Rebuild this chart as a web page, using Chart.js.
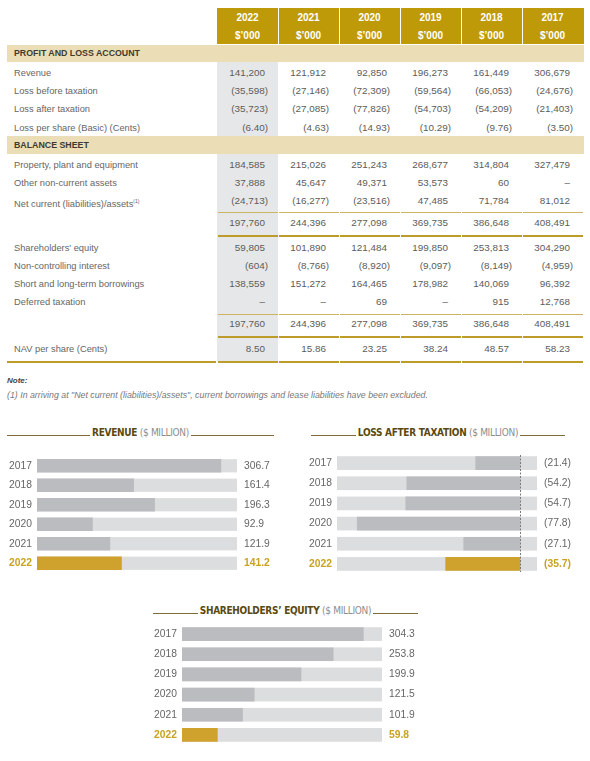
<!DOCTYPE html>
<html><head><meta charset="utf-8">
<script src="https://cdn.jsdelivr.net/npm/chart.js@4.4.1/dist/chart.umd.min.js"></script>
<style>
html,body{margin:0;padding:0;background:#fff;}
body{width:590px;height:761px;position:relative;overflow:hidden;font-family:"Liberation Sans",Arial,sans-serif;color:#666;}
.a{position:absolute;white-space:nowrap;}
.hdr{color:#fff;font-weight:bold;font-size:10px;text-align:center;width:61px;height:14px;line-height:14px;}
.lab{font-size:9.3px;color:#666;height:18px;line-height:18px;left:14px;}
.num{font-size:9.9px;color:#5c5c5c;height:18px;line-height:18px;text-align:right;width:61px;box-sizing:border-box;}
.sec{background:#EBDDB5;left:7px;width:577px;}
.sec span{position:absolute;left:7px;font-weight:bold;font-size:8.8px;color:#3e3a30;}
.ttl{position:absolute;display:flex;align-items:flex-end;height:11px;}
.ttl .ln{flex:1;height:1.5px;background:#7d6c3a;margin-bottom:2px;}
.ttl span{padding:0 2px;line-height:11px;font-family:"DejaVu Sans Condensed","DejaVu Sans",sans-serif;font-stretch:condensed;font-size:10px;letter-spacing:-0.3px;color:#8c8c8c;}
.ttl b{color:#5a4a10;}
.cw{position:absolute;}
</style></head><body>
<div id="tbl"></div>
<div class="a" style="left:7px;top:376px;font-size:8px;font-weight:bold;font-style:italic;color:#444;">Note:</div>
<div class="a" style="left:7px;top:390px;font-size:8.8px;font-style:italic;color:#777;">(1) In arriving at "Net current (liabilities)/assets", current borrowings and lease liabilities have been excluded.</div>

<div class="ttl" style="left:7px;top:427px;width:267px;"><i class="ln"></i><span><b>REVENUE</b> ($ MILLION)</span><i class="ln"></i></div>
<div class="ttl" style="left:311px;top:427px;width:254px;"><i class="ln"></i><span><b>LOSS AFTER TAXATION</b> ($ MILLION)</span><i class="ln"></i></div>
<div class="ttl" style="left:153px;top:605px;width:265px;"><i class="ln"></i><span><b>SHAREHOLDERS’ EQUITY</b> ($ MILLION)</span><i class="ln"></i></div>

<div class="cw" style="left:0px;top:456px;width:290px;height:117px;"><canvas id="cRev"></canvas></div>
<div class="cw" style="left:290px;top:453px;width:300px;height:121px;"><canvas id="cLoss"></canvas></div>
<div class="cw" style="left:130px;top:624px;width:312px;height:121px;"><canvas id="cEq"></canvas></div>

<script>
// ---------- TABLE DATA ----------
const tableYears = ['2022','2021','2020','2019','2018','2017'];
const unitLabel = '$’000';
const revenue = ['141,200','121,912','92,850','196,273','161,449','306,679'];
const lossBeforeTax = ['(35,598)','(27,146)','(72,309)','(59,564)','(66,053)','(24,676)'];
const lossAfterTax = ['(35,723)','(27,085)','(77,826)','(54,703)','(54,209)','(21,403)'];
const lossPerShare = ['(6.40)','(4.63)','(14.93)','(10.29)','(9.76)','(3.50)'];
const ppe = ['184,585','215,026','251,243','268,677','314,804','327,479'];
const otherNonCurrent = ['37,888','45,647','49,371','53,573','60','–'];
const netCurrent = ['(24,713)','(16,277)','(23,516)','47,485','71,784','81,012'];
const totalAssets = ['197,760','244,396','277,098','369,735','386,648','408,491'];
const shareholdersEquity = ['59,805','101,890','121,484','199,850','253,813','304,290'];
const nonControlling = ['(604)','(8,766)','(8,920)','(9,097)','(8,149)','(4,959)'];
const borrowings = ['138,559','151,272','164,465','178,982','140,069','96,392'];
const deferredTax = ['–','–','69','–','915','12,768'];
const totalFunding = ['197,760','244,396','277,098','369,735','386,648','408,491'];
const navPerShare = ['8.50','15.86','23.25','38.24','48.57','58.23'];

// ---------- CHART DATA ----------
const chartYears = ['2017','2018','2019','2020','2021','2022'];
const revenueM = [306.7, 161.4, 196.3, 92.9, 121.9, 141.2];
const lossAfterTaxM = [21.4, 54.2, 54.7, 77.8, 27.1, 35.7];
const equityM = [304.3, 253.8, 199.9, 121.5, 101.9, 59.8];

// ---------- TABLE LAYOUT ----------
const GOLD='#BE9A08', GOLDLINE='#BE9C2A', LIGHTLINE='#CDB464';
const colL=[217,278,339,400,461,522], colW=61;
const tbl=document.getElementById('tbl');
function el(cls, css, html){const d=document.createElement('div');d.className='a '+cls;Object.assign(d.style,css);if(html!==undefined)d.innerHTML=html;tbl.appendChild(d);return d;}
el('',{left:'217px',top:'62px',width:'61px',height:'299px',background:'#E6E7E8'});
el('',{left:'217px',top:'8px',width:'367px',height:'36px',background:GOLD});
for(let i=1;i<6;i++) el('',{left:colL[i]+'px',top:'8px',width:'1px',height:'36px',background:'#fff'});
tableYears.forEach((y,i)=>{
  el('hdr',{left:colL[i]+'px',top:'10.5px'},y);
  el('hdr',{left:colL[i]+'px',top:'29px'},unitLabel);
});
function section(label,top,h){const d=el('sec',{top:top+'px',height:h+'px'});d.innerHTML='<span style="top:0;line-height:'+h+'px">'+label+'</span>';}
section('PROFIT AND LOSS ACCOUNT',45,17);
section('BALANCE SHEET',136,18);
function row(label,vals,cy){
  if(label) el('lab',{top:(cy-9)+'px'},label);
  vals.forEach((v,i)=>{
    const neg=v.charAt(0)==='(';
    el('num',{left:colL[i]+'px',top:(cy-9)+'px',paddingRight:(neg?10:13)+'px'},v);
  });
}
function hline(y,h,color,full){
  if(full) el('',{left:'7px',top:y+'px',width:'209px',height:h+'px',background:color});
  colL.forEach(x=>el('',{left:(x+0.5)+'px',top:y+'px',width:(colW-1)+'px',height:h+'px',background:color}));
}
row('Revenue',revenue,72.5);
row('Loss before taxation',lossBeforeTax,90.5);
row('Loss after taxation',lossAfterTax,109);
row('Loss per share (Basic) (Cents)',lossPerShare,127.5);
row('Property, plant and equipment',ppe,164.5);
row('Other non-current assets',otherNonCurrent,182.5);
row('Net current (liabilities)/assets<sup style="font-size:5px;vertical-align:4px">(1)</sup>',netCurrent,200.5);
hline(212,1,LIGHTLINE,false);
row('',totalAssets,222.5);
hline(234.5,2.2,GOLDLINE,false);
row('Shareholders\' equity',shareholdersEquity,247.5);
row('Non-controlling interest',nonControlling,265.5);
row('Short and long-term borrowings',borrowings,283.5);
row('Deferred taxation',deferredTax,301.5);
hline(313.5,1.2,LIGHTLINE,false);
row('',totalFunding,323.5);
hline(335.5,2.2,GOLDLINE,false);
row('NAV per share (Cents)',navPerShare,348.5);
hline(360.5,2.5,GOLDLINE,true);

// ---------- CHARTS ----------
const BAR_GRAY='#BBBCBF', TRACK='#DCDDDE', BAR_GOLD='#CFA22E', TXT='#666', TXT_GOLD='#C9A21F';
const trackPlugin={id:'track',beforeDatasetsDraw(chart){
  const {ctx,chartArea}=chart;const meta=chart.getDatasetMeta(0);
  ctx.save();ctx.fillStyle=TRACK;
  meta.data.forEach(b=>{ctx.fillRect(chartArea.left,b.y-b.height/2,chartArea.right-chartArea.left,b.height);});
  ctx.restore();}};
const zeroLinePlugin={id:'zeroLine',afterDatasetsDraw(chart){
  const {ctx,chartArea}=chart;const x=Math.round(chart.scales.x.getPixelForValue(0))+0.5;
  ctx.save();ctx.strokeStyle='#7a7a7a';ctx.lineWidth=1;ctx.setLineDash([2,1.5]);
  ctx.beginPath();ctx.moveTo(x,chartArea.top+2);ctx.lineTo(x,chartArea.bottom-2);ctx.stroke();ctx.restore();}};

function tickFont(c){return {family:'"Liberation Sans", Arial, sans-serif',size:10.3,weight:c.index===5?'bold':'normal'};}
function tickColor(c){return c.index===5?TXT_GOLD:TXT;}
function fitTo(w){return s=>{s.width=w;s.paddingTop=0;s.paddingBottom=0;};}
function makeChart(id,values,valueTexts,xmin,xmax,yW,y2W,plugins){
  const colors=values.map((v,i)=>i===values.length-1?BAR_GOLD:BAR_GRAY);
  return new Chart(document.getElementById(id),{
    type:'bar',
    data:{labels:chartYears,datasets:[{data:values,backgroundColor:colors,borderWidth:0,inflateAmount:0,barPercentage:0.68,categoryPercentage:1}]},
    options:{indexAxis:'y',responsive:true,maintainAspectRatio:false,animation:false,
      layout:{padding:0},
      plugins:{legend:{display:false},tooltip:{enabled:false}},
      scales:{
        x:{display:false,min:xmin,max:xmax},
        y:{type:'category',position:'left',grid:{display:false,drawTicks:false},border:{display:false},
           ticks:{padding:5,color:tickColor,font:tickFont},afterFit:fitTo(yW)},
        y2:{type:'category',position:'right',labels:valueTexts,grid:{display:false,drawTicks:false},border:{display:false},
           ticks:{padding:7,color:tickColor,font:tickFont},afterFit:fitTo(y2W)}
      }},
    plugins:[trackPlugin].concat(plugins||[])
  });
}
makeChart('cRev',revenueM,revenueM.map(v=>v.toFixed(1)),0,333,37,53);
makeChart('cLoss',lossAfterTaxM.map(v=>-v),lossAfterTaxM.map(v=>'('+v.toFixed(1)+')'),-87.3,7.95,47,53,[zeroLinePlugin]);
makeChart('cEq',equityM,equityM.map(v=>v.toFixed(1)),0,335,52,60);
</script>
</body></html>
